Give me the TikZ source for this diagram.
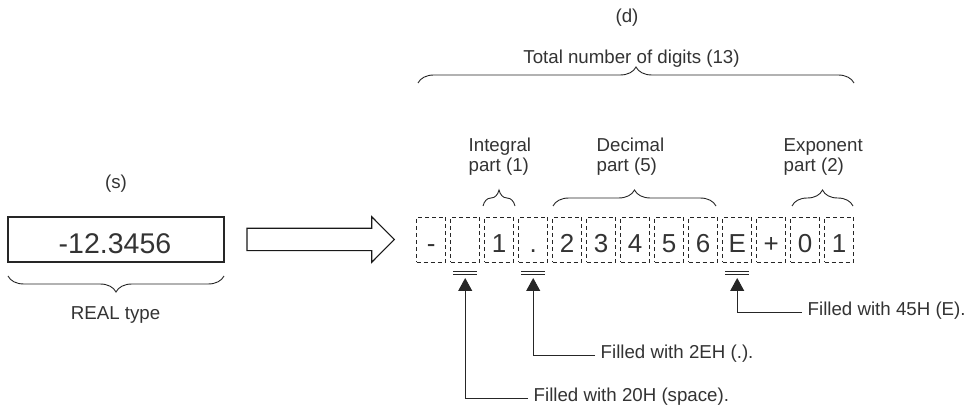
\documentclass[tikz,border=0pt]{standalone}
\usepackage{fontspec}
\setmainfont{Liberation Sans}
\usetikzlibrary{decorations.pathreplacing,arrows.meta}
\begin{document}
\begin{tikzpicture}[x=1pt,y=-1pt,
  lbl/.style={font=\fontsize{18.7}{20}\selectfont, text=black!80, inner sep=0pt},
  cellbox/.style={draw=black!85, dash pattern=on 4pt off 3pt, line width=0.8pt, minimum width=29pt, minimum height=45pt, inner sep=0pt},
  celltxt/.style={font=\fontsize{26}{28}\selectfont, text=black!80, inner sep=0pt, anchor=base},
  brc/.style={decorate, decoration={brace, amplitude=16pt}, draw=black!85, line width=0.9pt},
  note/.style={lbl, anchor=west, text height=0.716em, text depth=0pt, inner xsep=5.5pt},
  conn/.style={draw=black!85, line width=0.9pt, -{Triangle[width=14pt,length=13pt]}},
  dbl/.style={draw=black!85, line width=0.8pt},
]
\useasboundingbox (0,0) rectangle (967,414);

% source box
\node[draw=black!85, line width=1.3pt, minimum width=216pt, minimum height=45pt, inner sep=0pt] (s) at (116,239.5) {};
\node[font=\fontsize{28.5}{30}\selectfont, text=black!80, inner sep=0pt, anchor=base] (sv) at (115,254) {-12.3456};
\node[lbl] (sl) at (116,184) {(s)};
\draw[brc] (224,276) -- (8,276);
\node[lbl] (rt) at (115.5,315.5) {REAL type};

% big arrow
\draw[draw=black!90, line width=1.1pt, fill=white] (247,228.3) -- (371.7,228.3) -- (371.7,216.7) -- (394.3,239.5) -- (371.7,262.3) -- (371.7,250.7) -- (247,250.7) -- cycle;

% cells
\foreach \i/\t in {0/-,1/,2/1,3/.,4/2,5/3,6/4,7/5,8/6,9/E,10/+,11/0,12/1} {
  \node[cellbox] (c\i) at ({431.2+34*\i},239.5) {};
  \node[celltxt] (t\i) at ({431.2+34*\i},253) {\t};
}

% braces and labels
\node[lbl] (d) at (627,17.5) {(d)};
\node[lbl] (tot) at (631.5,58.3) {Total number of digits (13)};
\draw[brc] (418,83) -- (854,83);
\draw[brc] (483,206) -- (515,206);
\draw[brc] (553,206) -- (716,206);
\draw[brc] (792,206) -- (853,206);
\node[lbl, anchor=north west, align=left] (ip) at (468.5,138) {Integral\\part (1)};
\node[lbl, anchor=north west, align=left] (dp) at (596.5,138) {Decimal\\part (5)};
\node[lbl, anchor=north west, align=left] (ep) at (783.5,138) {Exponent\\part (2)};

% double lines
\foreach \i in {1,3,9} {
  \draw[dbl] ({431.2+34*\i-12},271.7) -- ({431.2+34*\i+12},271.7);
  \draw[dbl] ({431.2+34*\i-12},274.5) -- ({431.2+34*\i+12},274.5);
}

% pointers
\coordinate (a1) at (465.2,278);
\coordinate (a3) at (533.2,278);
\coordinate (a9) at (737.2,278);
\node[note] (n1) at (528,398) {Filled with 20H (space).};
\node[note] (n3) at (595,355) {Filled with 2EH (.).};
\node[note] (n9) at (802,312) {Filled with 45H (E).};
\draw[conn] (n1.west) -| (a1);
\draw[conn] (n3.west) -| (a3);
\draw[conn] (n9.west) -| (a9);
\end{tikzpicture}
\end{document}
